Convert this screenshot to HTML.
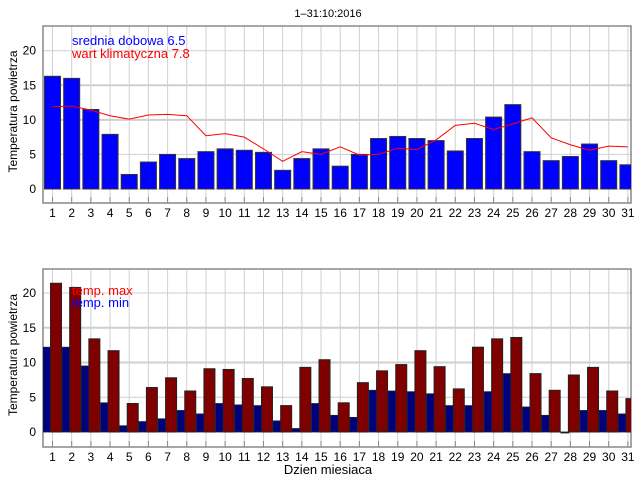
<!DOCTYPE html>
<html><head><meta charset="utf-8"><style>
body{margin:0;background:#fff;}
svg{display:block;font-family:"Liberation Sans","DejaVu Sans",sans-serif;}
</style></head><body>
<svg id="c" width="640" height="480" xmlns="http://www.w3.org/2000/svg">
<text x="328" y="17" font-size="11" text-anchor="middle">1–31:10:2016</text>
<g id="top"></g>
<g id="bot"></g>
<text x="328" y="474" font-size="13" text-anchor="middle">Dzien miesiaca</text>
</svg>
<script>
const days = Array.from({length:31},(_,i)=>i+1);
const meanTemp = [16.3,16.0,11.5,7.9,2.1,3.9,5.0,4.4,5.4,5.8,5.6,5.3,2.7,4.4,5.8,3.3,5.0,7.3,7.6,7.3,7.0,5.5,7.3,10.4,12.2,5.4,4.1,4.7,6.5,4.1,3.5];
const climTemp = [11.9,12.0,11.4,10.6,10.1,10.7,10.8,10.6,7.7,8.0,7.5,5.8,4.0,5.4,5.0,6.1,4.9,5.0,5.9,5.7,7.1,9.2,9.5,8.6,9.4,10.3,7.4,6.4,5.6,6.2,6.1];
const maxTemp = [21.4,20.8,13.4,11.7,4.1,6.4,7.8,5.9,9.1,9.0,7.7,6.5,3.8,9.3,10.4,4.2,7.1,8.8,9.7,11.7,9.4,6.2,12.2,13.4,13.6,8.4,6.0,8.2,9.3,5.9,4.8];
const minTemp = [12.2,12.2,9.5,4.2,0.9,1.5,1.9,3.1,2.6,4.1,3.9,3.8,1.6,0.5,4.1,2.4,2.1,6.0,5.9,5.8,5.5,3.8,3.8,5.8,8.4,3.6,2.4,-0.1,3.1,3.1,2.6];
const yTicks = [0,5,10,15,20];

const NS="http://www.w3.org/2000/svg";
function mk(p,t,a){const e=document.createElementNS(NS,t);for(const k in a)e.setAttribute(k,a[k]);p.appendChild(e);return e;}
const L=43,R=631;
const xs=d=>52.5+(d-1)*19.18;

function panel(g,top,bottom,y0,y20,id){
  const ys=v=>y0-(y0-y20)*v/20;
  const clipId='clip'+id;
  const cp=mk(mk(g,'defs',{}),'clipPath',{id:clipId});
  mk(cp,'rect',{x:L,y:top,width:R-L,height:bottom-top});
  for(const d of days){
    const gl=mk(g,'line',{x1:xs(d),x2:xs(d),y1:top,y2:bottom,stroke:'#d0d0d0','stroke-width':1});
    
    
    const tk=mk(g,'line',{x1:xs(d),x2:xs(d),y1:bottom-6,y2:bottom,stroke:'#888'});
    
    
    const lb=mk(g,'text',{x:xs(d),y:bottom+14,'font-size':12,'text-anchor':'middle'});
    lb.textContent=d;
    
    
  }
  for(const v of yTicks){
    const gl=mk(g,'line',{x1:L,x2:R,y1:ys(v),y2:ys(v),stroke:'#cfcfcf','stroke-width':(v==10||v==15)?2:1});
    
    
    const lb=mk(g,'text',{x:L-7,y:ys(v)+4,'font-size':12,'text-anchor':'end'});
    lb.textContent=v;
    
    
  }
  const fr=mk(g,'rect',{x:L,y:top,width:R-L,height:bottom-top,fill:'none',stroke:'#888','stroke-width':1.5});
  
  
  const yt=mk(g,'text',{x:0,y:0,'font-size':12,'text-anchor':'middle',transform:`translate(17,${(top+bottom)/2-3}) rotate(-90)`});
  yt.textContent='Temperatura powietrza';
  
  
  const body=mk(g,'g',{'clip-path':`url(#${clipId})`});
  return {ys,body};
}

// top panel
{
  const g=document.getElementById('top');
  const {ys,body}=panel(g,26,203,189,50.7,'t');
  meanTemp.forEach((v,i)=>{
    const x=xs(days[i]);const y=Math.min(ys(v),ys(0));
    const b=mk(body,'rect',{x:x-8,y:y,width:16,height:Math.abs(ys(v)-ys(0)),fill:'#0000ff',stroke:'#333','stroke-width':1});
    
    
  });
  const pts=climTemp.map((v,i)=>xs(days[i])+','+ys(v)).join(' ');
  const ln=mk(body,'polyline',{points:pts,fill:'none',stroke:'#ff0000','stroke-width':1});
  
  
  const t1=mk(g,'text',{x:72,y:45,'font-size':13,fill:'#0000ff'});t1.textContent='srednia dobowa 6.5';
  
  
  const t2=mk(g,'text',{x:72,y:58,'font-size':13,fill:'#ff0000'});t2.textContent='wart klimatyczna 7.8';
  
  
}
// bottom panel
{
  const g=document.getElementById('bot');
  const {ys,body}=panel(g,269,447,432,293,'b');
  minTemp.forEach((v,i)=>{
    const x=xs(days[i]);const y=Math.min(ys(v),ys(0));
    const b=mk(body,'rect',{x:x-9.5,y:y,width:8,height:Math.max(1,Math.abs(ys(v)-ys(0))),fill:'#000080',stroke:'#222','stroke-width':0.8});
    
    
  });
  maxTemp.forEach((v,i)=>{
    const x=xs(days[i]);const y=Math.min(ys(v),ys(0));
    const b=mk(body,'rect',{x:x-2,y:y,width:11,height:Math.abs(ys(v)-ys(0)),fill:'#800000',stroke:'#222','stroke-width':1});
    
    
  });
  const t1=mk(g,'text',{x:72,y:295,'font-size':13,fill:'#ff0000'});t1.textContent='temp. max';
  
  
  const t2=mk(g,'text',{x:72,y:307,'font-size':13,fill:'#0000ff'});t2.textContent='temp. min';
  
  
}
</script>
</body></html>
